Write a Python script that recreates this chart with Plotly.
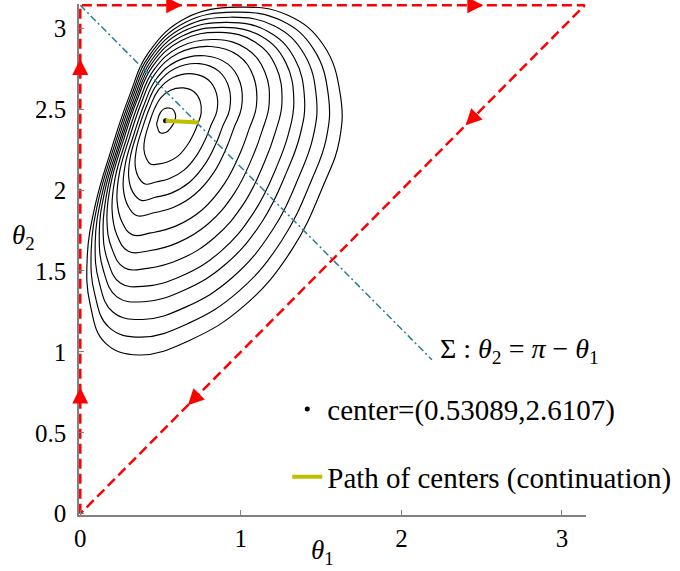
import plotly.graph_objects as go
import math

# ---------------- data ----------------
PI = math.pi

# level curves (closed), theta1 / theta2 values, innermost first
contour_theta1 = [
    [0.557, 0.575, 0.588, 0.594, 0.588, 0.575, 0.557, 0.538, 0.519, 0.501, 0.489, 0.482, 0.476, 0.482, 0.489, 0.501, 0.519, 0.538],
    [0.641, 0.708, 0.746, 0.753, 0.732, 0.707, 0.663, 0.606, 0.542, 0.482, 0.437, 0.411, 0.396, 0.404, 0.430, 0.461, 0.501, 0.562],
    [0.700, 0.798, 0.848, 0.851, 0.814, 0.782, 0.724, 0.646, 0.556, 0.471, 0.405, 0.364, 0.342, 0.350, 0.388, 0.434, 0.488, 0.578],
    [0.742, 0.864, 0.926, 0.930, 0.886, 0.848, 0.777, 0.680, 0.567, 0.462, 0.380, 0.329, 0.302, 0.311, 0.358, 0.414, 0.479, 0.590],
    [0.775, 0.920, 0.996, 1.004, 0.957, 0.913, 0.831, 0.714, 0.579, 0.452, 0.355, 0.297, 0.268, 0.280, 0.335, 0.398, 0.471, 0.599],
    [0.813, 0.984, 1.079, 1.097, 1.050, 0.998, 0.899, 0.758, 0.594, 0.440, 0.325, 0.259, 0.229, 0.245, 0.308, 0.380, 0.463, 0.610],
    [0.843, 1.036, 1.149, 1.176, 1.132, 1.073, 0.960, 0.797, 0.608, 0.429, 0.299, 0.228, 0.198, 0.217, 0.287, 0.366, 0.456, 0.618],
    [0.872, 1.088, 1.218, 1.256, 1.214, 1.148, 1.021, 0.836, 0.621, 0.418, 0.274, 0.196, 0.166, 0.190, 0.266, 0.352, 0.450, 0.627],
    [0.893, 1.130, 1.279, 1.330, 1.296, 1.224, 1.081, 0.875, 0.634, 0.407, 0.249, 0.169, 0.142, 0.171, 0.251, 0.343, 0.445, 0.632],
    [0.914, 1.169, 1.334, 1.397, 1.368, 1.289, 1.135, 0.910, 0.646, 0.398, 0.228, 0.144, 0.118, 0.151, 0.237, 0.333, 0.441, 0.638],
    [0.935, 1.210, 1.394, 1.471, 1.450, 1.365, 1.195, 0.949, 0.659, 0.387, 0.203, 0.117, 0.093, 0.132, 0.222, 0.323, 0.436, 0.644],
    [0.956, 1.252, 1.455, 1.546, 1.532, 1.440, 1.256, 0.988, 0.673, 0.376, 0.179, 0.089, 0.068, 0.112, 0.207, 0.313, 0.432, 0.650],
    [0.977, 1.293, 1.515, 1.620, 1.614, 1.515, 1.317, 1.027, 0.686, 0.365, 0.155, 0.062, 0.043, 0.093, 0.192, 0.303, 0.427, 0.656],
]
contour_theta2 = [
    [2.506, 2.500, 2.481, 2.457, 2.426, 2.401, 2.377, 2.358, 2.352, 2.352, 2.364, 2.383, 2.407, 2.432, 2.457, 2.481, 2.500, 2.506],
    [2.631, 2.607, 2.551, 2.477, 2.410, 2.349, 2.272, 2.208, 2.173, 2.160, 2.161, 2.197, 2.254, 2.327, 2.415, 2.500, 2.570, 2.617],
    [2.718, 2.680, 2.597, 2.489, 2.400, 2.320, 2.213, 2.123, 2.071, 2.050, 2.037, 2.077, 2.151, 2.253, 2.386, 2.513, 2.620, 2.695],
    [2.781, 2.733, 2.632, 2.499, 2.392, 2.294, 2.160, 2.048, 1.981, 1.954, 1.936, 1.984, 2.074, 2.201, 2.365, 2.522, 2.655, 2.751],
    [2.830, 2.778, 2.663, 2.509, 2.384, 2.268, 2.108, 1.974, 1.892, 1.858, 1.841, 1.902, 2.010, 2.159, 2.348, 2.529, 2.683, 2.795],
    [2.887, 2.831, 2.700, 2.520, 2.373, 2.234, 2.041, 1.877, 1.777, 1.735, 1.723, 1.804, 1.936, 2.112, 2.329, 2.538, 2.715, 2.845],
    [2.930, 2.873, 2.731, 2.530, 2.364, 2.205, 1.981, 1.792, 1.675, 1.625, 1.622, 1.722, 1.876, 2.075, 2.314, 2.544, 2.739, 2.884],
    [2.974, 2.915, 2.763, 2.540, 2.355, 2.175, 1.921, 1.707, 1.572, 1.516, 1.520, 1.640, 1.816, 2.038, 2.299, 2.551, 2.764, 2.923],
    [3.005, 2.948, 2.789, 2.550, 2.345, 2.146, 1.862, 1.621, 1.470, 1.406, 1.426, 1.569, 1.768, 2.012, 2.289, 2.555, 2.782, 2.951],
    [3.036, 2.980, 2.814, 2.558, 2.337, 2.120, 1.809, 1.546, 1.381, 1.310, 1.340, 1.503, 1.723, 1.986, 2.278, 2.560, 2.799, 2.979],
    [3.068, 3.013, 2.841, 2.567, 2.328, 2.090, 1.750, 1.461, 1.278, 1.200, 1.246, 1.432, 1.675, 1.959, 2.268, 2.565, 2.817, 3.006],
    [3.099, 3.047, 2.868, 2.577, 2.318, 2.061, 1.690, 1.375, 1.176, 1.091, 1.151, 1.361, 1.628, 1.933, 2.257, 2.569, 2.834, 3.034],
    [3.130, 3.080, 2.895, 2.586, 2.309, 2.031, 1.630, 1.290, 1.074, 0.981, 1.056, 1.290, 1.580, 1.907, 2.247, 2.574, 2.852, 3.062],
]

# heteroclinic triangle boundary
boundary_theta1 = [0.0, 0.0, PI, 0.0]
boundary_theta2 = [0.0, PI, PI, 0.0]

# flow arrows on the boundary: tip positions and direction
arrow_theta1 = [0.0, 0.0, 0.635, 2.51, 2.40, 0.67]
arrow_theta2 = [0.78, 2.81, PI, PI, 2.40, 0.67]
arrow_dir = [(0, 1), (0, 1), (1, 0), (1, 0), (-1, -1), (-1, -1)]

# symmetry line Sigma : theta2 = pi - theta1
sigma_theta1 = [0.0, 2.19]
sigma_theta2 = [PI, PI - 2.19]

# center and path of centers
center_theta1 = [0.531]
center_theta2 = [2.428]
path_theta1 = [0.531, 0.737]
path_theta2 = [2.428, 2.418]

x_ticks = [0, 1, 2, 3]
y_ticks = [0, 0.5, 1, 1.5, 2, 2.5, 3]
y_tick_text = ["0", "0.5", "1", "1.5", "2", "2.5", "3"]

# ---------------- figure ----------------
FONT = "Liberation Serif"
RED = "#ff0000"
TEAL = "#2b7b98"
YELLOW = "#bfbf00"

fig = go.Figure()

for t1, t2 in zip(contour_theta1, contour_theta2):
    fig.add_trace(go.Scatter(
        x=t1 + [t1[0]], y=t2 + [t2[0]], mode="lines",
        line=dict(color="black", width=1.15, shape="spline", smoothing=1.2),
        showlegend=False, hoverinfo="skip"))

fig.add_trace(go.Scatter(
    x=sigma_theta1, y=sigma_theta2, mode="lines",
    line=dict(color=TEAL, width=1.5, dash="7px,3px,2px,3px"),
    showlegend=False, hoverinfo="skip"))

fig.add_trace(go.Scatter(
    x=boundary_theta1, y=boundary_theta2, mode="lines",
    line=dict(color=RED, width=2.5, dash="10px,5px"),
    showlegend=False, hoverinfo="skip"))

fig.add_trace(go.Scatter(
    x=center_theta1, y=center_theta2, mode="markers",
    marker=dict(color="black", size=5),
    name="center=(0.53089,2.6107)", legendgroup="a"))

fig.add_trace(go.Scatter(
    x=path_theta1, y=path_theta2, mode="lines",
    line=dict(color=YELLOW, width=4),
    name="Path of centers (continuation)", legendgroup="b"))

for x0, y0, (dx, dy) in zip(arrow_theta1, arrow_theta2, arrow_dir):
    fig.add_annotation(
        x=x0, y=y0, ax=x0 - 0.08 * dx, ay=y0 - 0.08 * dy,
        xref="x", yref="y", axref="x", ayref="y",
        showarrow=True, arrowhead=2, arrowsize=1.6, arrowwidth=2,
        arrowcolor=RED, text="", standoff=0)

fig.add_annotation(
    x=2.23, y=1.01, xref="x", yref="y", xanchor="left", yanchor="middle",
    text="Σ : <i>θ</i><sub>2</sub> = <i>π</i> − <i>θ</i><sub>1</sub>",
    showarrow=False, font=dict(family=FONT, size=28, color="black"))

fig.add_annotation(
    x=0.48, y=-0.072, xref="paper", yref="paper", xanchor="center", yanchor="middle",
    text="<i>θ</i><sub>1</sub>", showarrow=False,
    font=dict(family=FONT, size=27, color="black"))
fig.add_annotation(
    x=-0.11, y=0.545, xref="paper", yref="paper", xanchor="center", yanchor="middle",
    text="<i>θ</i><sub>2</sub>", showarrow=False,
    font=dict(family=FONT, size=27, color="black"))

axis_common = dict(
    showgrid=False, zeroline=False, showline=True, linecolor="#808080", linewidth=1.5,
    ticks="inside", ticklen=5, tickwidth=1.2, tickcolor="#808080",
    tickfont=dict(family=FONT, size=25, color="black"))

fig.update_xaxes(range=[-0.008, PI + 0.008], tickvals=x_ticks, ticklabelstandoff=0, **axis_common)
fig.update_yaxes(range=[-0.008, PI + 0.008], tickvals=y_ticks, ticktext=y_tick_text,
                 ticklabelstandoff=6, **axis_common)

fig.update_layout(
    width=680, height=571,
    margin=dict(l=79, r=93, t=4, b=56),
    plot_bgcolor="white", paper_bgcolor="white",
    font=dict(family=FONT, size=26, color="black"),
    legend=dict(x=0.41, y=0.257, xanchor="left", yanchor="top",
                bgcolor="rgba(0,0,0,0)", borderwidth=0,
                font=dict(family=FONT, size=29, color="black"),
                tracegroupgap=27),
)

fig.write_html("out.html", config={"displayModeBar": False},
               post_script="document.body.style.margin='0px';")
